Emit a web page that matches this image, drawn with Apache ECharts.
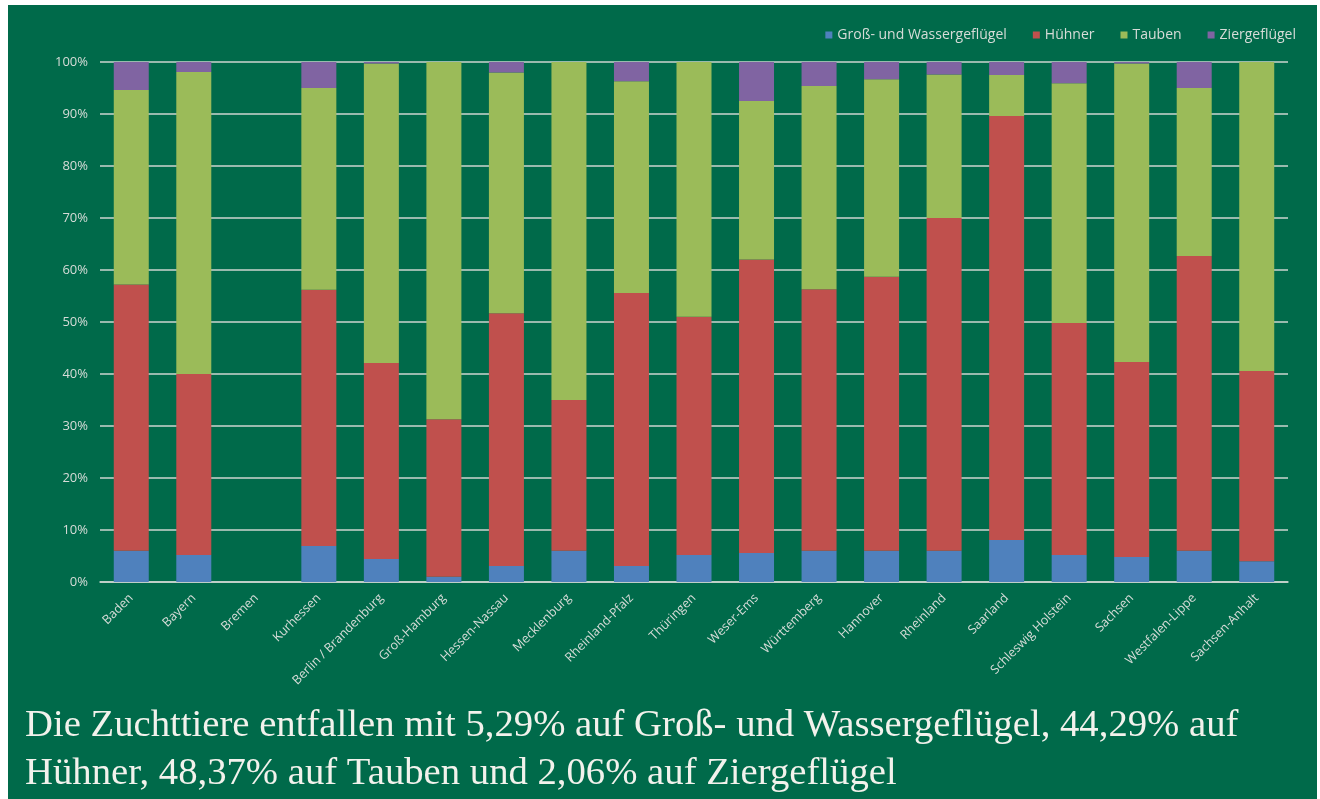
<!DOCTYPE html>
<html>
<head>
    <meta charset="UTF-8">
    <title>Zuchttiere</title>
    <style>
        html, body {
            margin: 0;
            padding: 0;
            background-color: #FFF;
        }

        #main {
            position: absolute;
            left: 8px;
            top: 5px;
            width: 1309px;
            height: 794px;
        }
    </style>
</head>
<body>
<div id="main"></div>

<script src="https://cdn.jsdelivr.net/npm/echarts@6/dist/echarts.min.js"></script>
<script type="text/javascript">
    // Kategorien (Landesbauernschaften)
    var regions = ['Baden', 'Bayern', 'Bremen', 'Kurhessen', 'Berlin / Brandenburg', 'Groß-Hamburg',
        'Hessen-Nassau', 'Mecklenburg', 'Rheinland-Pfalz', 'Thüringen', 'Weser-Ems', 'Württemberg',
        'Hannover', 'Rheinland', 'Saarland', 'Schleswig Holstein', 'Sachsen', 'Westfalen-Lippe', 'Sachsen-Anhalt'];

    // Anteile in Prozent
    var grossWasser = [6, 5.2, 0, 6.9, 4.4, 1, 3.1, 6, 3.1, 5.2, 5.6, 6, 6, 6, 8.1, 5.2, 4.8, 6, 4];
    var huehner = [51.2, 34.8, 0, 49.3, 37.7, 30.3, 48.6, 29, 52.5, 45.8, 56.4, 50.3, 52.7, 64, 81.5, 44.6, 37.5, 56.7, 36.6];
    var tauben = [37.4, 58.1, 0, 38.8, 57.6, 68.7, 46.3, 65, 40.7, 49, 30.5, 39.1, 38, 27.6, 7.9, 46.1, 57.4, 32.3, 59.4];
    var ziergefluegel = [5.4, 1.9, 0, 5, 0.3, 0, 2, 0, 3.7, 0, 7.5, 4.6, 3.3, 2.4, 2.5, 4.1, 0.3, 5, 0];

    var seriesNames = ['Groß- und Wassergeflügel', 'Hühner', 'Tauben', 'Ziergeflügel'];
    var yTicks = [0, 10, 20, 30, 40, 50, 60, 70, 80, 90, 100];

    var captionLines = [
        'Die Zuchttiere entfallen mit 5,29% auf Groß- und Wassergeflügel, 44,29% auf',
        'Hühner, 48,37% auf Tauben und 2,06% auf Ziergeflügel'
    ];

    var colors = ['#4F81BD', '#C0504D', '#9BBB59', '#8064A2'];
    var labelColor = '#d6dcd8';
    var gridColor = '#ccd6d1';

    function barSeries(name, data) {
        return {
            name: name,
            type: 'bar',
            stack: 'total',
            barWidth: 35,
            data: data
        };
    }

    var mCharts = echarts.init(document.getElementById('main'));

    var mOptions = {
        backgroundColor: '#006A4A',
        color: colors,
        animation: false,

        legend: {
            data: seriesNames,
            top: 18,
            right: 16,
            icon: 'rect',
            itemWidth: 7,
            itemHeight: 7,
            itemGap: 26,
            selectedMode: false,
            textStyle: {
                color: labelColor,
                fontSize: 14,
                fontFamily: 'Open Sans'
            }
        },

        grid: {
            left: 92,
            right: 29,
            top: 57,
            bottom: 217,
            containLabel: false
        },

        xAxis: {
            type: 'category',
            data: regions,
            axisLine: {lineStyle: {color: gridColor, width: 1.5}},
            axisTick: {show: false},
            axisLabel: {
                rotate: 45,
                interval: 0,
                color: labelColor,
                fontSize: 12.5,
                fontFamily: 'Open Sans',
                margin: 14
            }
        },

        yAxis: {
            type: 'value',
            min: 0,
            max: 100,
            interval: 10,
            axisLine: {show: false},
            axisTick: {show: false},
            splitLine: {lineStyle: {color: gridColor, width: 1.5}},
            axisLabel: {
                formatter: function (v) {
                    return yTicks.indexOf(v) >= 0 ? v + '%' : '';
                },
                color: labelColor,
                fontSize: 13,
                fontFamily: 'Open Sans',
                margin: 12
            }
        },

        graphic: [{
            type: 'text',
            x: 17,
            y: 701,
            style: {
                text: captionLines[0],
                fill: '#F2F2EC',
                font: '38.7px "Liberation Serif"'
            }
        }, {
            type: 'text',
            x: 17,
            y: 749,
            style: {
                text: captionLines[1],
                fill: '#F2F2EC',
                font: '38.7px "Liberation Serif"'
            }
        }],

        series: [
            barSeries(seriesNames[0], grossWasser),
            barSeries(seriesNames[1], huehner),
            barSeries(seriesNames[2], tauben),
            barSeries(seriesNames[3], ziergefluegel)
        ]
    };

    mCharts.setOption(mOptions);
</script>
</body>
</html>
